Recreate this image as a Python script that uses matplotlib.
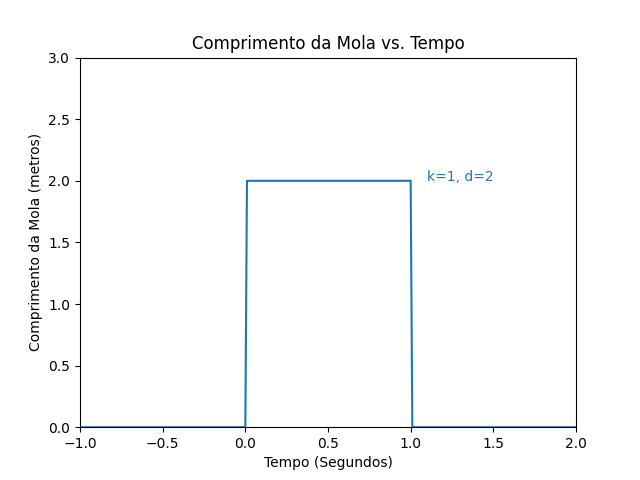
import matplotlib
matplotlib.use("Agg")
import matplotlib.pyplot as plt

tempo = [-1.0, 0.0, 0.01, 1.0, 1.01, 2.0]
comprimento = [0.0, 0.0, 2.0, 2.0, 0.0, 0.0]

fig, ax = plt.subplots(figsize=(6.4, 4.8), dpi=100)
ax.plot(tempo, comprimento, color="C0")
ax.text(1.1, 2.0, "k=1, d=2", color="C0")
ax.set_xlim(-1, 2)
ax.set_ylim(0, 3)
ax.set_title("Comprimento da Mola vs. Tempo")
ax.set_xlabel("Tempo (Segundos)")
ax.set_ylabel("Comprimento da Mola (metros)")
fig.savefig("out.png")
